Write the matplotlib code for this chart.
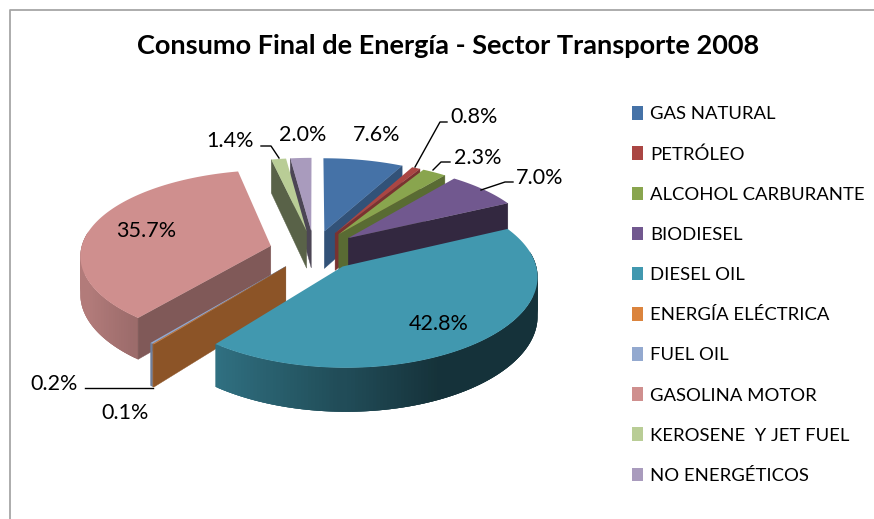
import numpy as np
import matplotlib
matplotlib.use("Agg")
import matplotlib.pyplot as plt
from matplotlib.patches import Patch, Polygon
from matplotlib.colors import to_rgb

plt.rcParams['font.family'] = ['Lato', 'DejaVu Sans']

categories = ["GAS NATURAL", "PETRÓLEO", "ALCOHOL CARBURANTE", "BIODIESEL", "DIESEL OIL",
              "ENERGÍA ELÉCTRICA", "FUEL OIL", "GASOLINA MOTOR", "KEROSENE  Y JET FUEL", "NO ENERGÉTICOS"]
values = [7.6, 0.8, 2.3, 7.0, 42.8, 0.1, 0.2, 35.7, 1.4, 2.0]
colors = ["#4572A7", "#AA4643", "#89A54E", "#71588F", "#4198AF",
          "#DB843D", "#93A9CF", "#CF8F8E", "#B9CD96", "#A99BBD"]
cut_shade = [0.72, 0.72, 0.65, 0.45, 0.6, 0.64, 0.7, 0.62, 0.48, 0.45]
draw_order = [9, 8, 0, 1, 2, 3, 7, 6, 5, 4]

# projection of the tilted pie
CX, CY = 314.0, 250.5
RX, RY = 190.0, 85.7
PERSP_X, PERSP_Y = 0.10, 0.115
EXPLODE = 0.235
DEPTH = 38.0


def project(u, v, drop=0.0):
    sx = 1.0 / (1.0 + PERSP_X * v)
    sy = 1.0 / (1.0 + PERSP_Y * v)
    return CX + RX * u * sx, CY - RY * v * sy + drop * sy


fig = plt.figure(figsize=(8.74, 5.19), dpi=100)
ax = fig.add_axes([0, 0, 1, 1])
ax.set_xlim(0, 874)
ax.set_ylim(519, 0)
ax.axis("off")

# chart frame
ax.plot([9.5, 9.5, 874], [519, 9.5, 9.5], color="#A6A6A6", lw=1.3, zorder=1)

fractions = np.array(values) / np.sum(values)
edges = np.concatenate([[0.0], np.cumsum(fractions)]) * 2 * np.pi

z = 2
for i in draw_order:
    a, b = edges[i], edges[i + 1]
    mid = (a + b) / 2
    ox, oy = EXPLODE * np.sin(mid), EXPLODE * np.cos(mid)
    base = np.array(to_rgb(colors[i]))
    th = np.linspace(a, b, max(4, int((b - a) * 60)))
    uu, vv = ox + np.sin(th), oy + np.cos(th)

    # rim, one strip per small angle step, each overlapping the next
    segs = [k for k in range(len(th) - 1) if np.cos(th[k]) < 0.15 or np.cos(th[k + 1]) < 0.15]
    segs.sort(key=lambda k: -vv[k])
    for k in segs:
        k0, k1 = max(k - 1, 0), min(k + 2, len(th) - 1)
        idx = np.arange(k0, k1 + 1)
        upper = [project(uu[j], vv[j]) for j in idx]
        lower = [project(uu[j], vv[j], DEPTH) for j in idx[::-1]]
        shade = np.clip(0.50 - 0.40 * np.sin(th[k]), 0.33, 0.86)
        ax.add_patch(Polygon(upper + lower, closed=True, fc=base * shade, ec="none", zorder=z))
    z += 1

    # radial cut faces that look towards the viewer
    for ang, vis in ((a, np.sin(a) < 0), (b, np.sin(b) > 0)):
        if not vis:
            continue
        col = base * cut_shade[i]
        p0 = project(ox, oy)
        p1 = project(ox + np.sin(ang), oy + np.cos(ang))
        p2 = project(ox + np.sin(ang), oy + np.cos(ang), DEPTH)
        p3 = project(ox, oy, DEPTH)
        ax.add_patch(Polygon([p0, p1, p2, p3], closed=True, fc=col, ec=col, lw=0.3, zorder=z))
        z += 1

    # top face
    px, py = project(np.concatenate([[ox], uu]), np.concatenate([[oy], vv]))
    ax.add_patch(Polygon(np.column_stack([px, py]), closed=True, fc=base, ec="none", zorder=z))
    z += 1

TOP = 500
ax.text(448, 46, "Consumo Final de Energía - Sector Transporte 2008", ha="center", va="center",
        fontsize=19.55, fontweight="bold", color="black", zorder=TOP)

label_text = ["7.6%", "0.8%", "2.3%", "7.0%", "42.8%", "0.1%", "0.2%", "35.7%", "1.4%", "2.0%"]
label_x = [377, 474, 478, 540, 439, 125, 54, 146, 230, 303]
label_y = [135, 117, 158, 178, 324, 413, 384, 231, 141, 135]
for t, x, y in zip(label_text, label_x, label_y):
    ax.text(x, y, t, ha="center", va="center", fontsize=15.5, color="black", zorder=TOP)

leaders = [([415, 440, 447], [167, 122, 122]),
           ([433, 441, 450], [170, 162, 162]),
           ([481, 505, 513], [190, 182, 182]),
           ([279, 271, 261], [158, 146, 146]),
           ([85, 153], [388, 388])]
for lx, ly in leaders:
    ax.plot(lx, ly, color="black", lw=1.0, zorder=TOP)

handles = [Patch(fc=c, ec="none") for c in colors]
ax.legend(handles, categories, loc="upper left", bbox_to_anchor=(632 / 874, 1 - 106 / 519),
          frameon=False, fontsize=13.3, handlelength=0.6, handleheight=0.75, handletextpad=0.38,
          labelspacing=1.296, borderpad=0, borderaxespad=0)

fig.savefig("out.png", dpi=100)
